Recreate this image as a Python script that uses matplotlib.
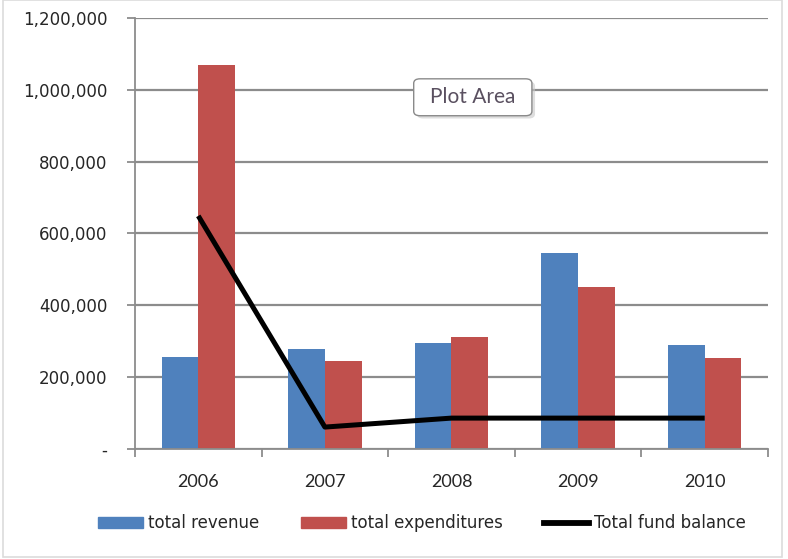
import numpy as np
import matplotlib.pyplot as plt
from matplotlib.patches import FancyBboxPatch, Rectangle
from matplotlib.lines import Line2D
from matplotlib.ticker import FuncFormatter

years = ['2006', '2007', '2008', '2009', '2010']
total_revenue = [256000, 278000, 295000, 546000, 290000]
total_expenditures = [1069000, 245000, 312000, 451000, 253000]
total_fund_balance = [649000, 61000, 86000, 86000, 86000]

blue = '#4f81bd'
red = '#c0504d'
grid_grey = '#8c8c8c'
text_grey = '#262626'

plt.rcParams['font.family'] = ['Lato', 'DejaVu Sans']

fig = plt.figure(figsize=(7.88, 5.59), dpi=100)
ax = fig.add_axes([0.1713, 0.1968, 0.8033, 0.771])

x = np.arange(len(years))
bar_w = 0.29
ax.bar(x - bar_w / 2, total_revenue, width=bar_w, color=blue, zorder=2)
ax.bar(x + bar_w / 2, total_expenditures, width=bar_w, color=red, zorder=2)
ax.plot(x, total_fund_balance, color='black', linewidth=3.6, zorder=3,
        solid_capstyle='butt')

ax.set_xlim(-0.5, len(years) - 0.5)
ax.set_ylim(0, 1200000)
ax.set_yticks(np.arange(0, 1200001, 200000))
ax.yaxis.set_major_formatter(FuncFormatter(lambda v, p: '-' if v == 0 else f'{int(v):,}'))
ax.set_xticks(x)
ax.set_xticklabels(years)
ax.set_xticks(np.arange(-0.5, len(years)), minor=True)
ax.tick_params(axis='x', which='major', length=0, pad=18, labelsize=13, colors=text_grey)
ax.tick_params(axis='x', which='minor', length=6, width=1.3, color=grid_grey)
ax.tick_params(axis='y', length=6, width=1.3, color=grid_grey, pad=14,
               labelsize=12, labelcolor=text_grey)
for lbl in ax.get_yticklabels():
    lbl.set_family('DejaVu Sans')

ax.grid(axis='y', color=grid_grey, linewidth=1.6, zorder=0)
for side in ['top', 'right']:
    ax.spines[side].set_visible(False)
ax.spines['left'].set_color(grid_grey)
ax.spines['bottom'].set_color(grid_grey)
ax.spines['left'].set_linewidth(1.3)
ax.spines['bottom'].set_linewidth(1.3)

# "Plot Area" hover tag with a soft shadow
shadow = FancyBboxPatch((0.533, 0.792), 0.142, 0.058, boxstyle='round,pad=0.004,rounding_size=0.008',
                        transform=fig.transFigure, facecolor='#c8c8c8', edgecolor='none',
                        alpha=0.6, zorder=4)
fig.patches.append(shadow)
tag = FancyBboxPatch((0.529, 0.797), 0.142, 0.058, boxstyle='round,pad=0.004,rounding_size=0.008',
                     transform=fig.transFigure, facecolor='white', edgecolor='#8a8a8a',
                     linewidth=1.0, zorder=5)
fig.patches.append(tag)
fig.text(0.600, 0.826, 'Plot Area', ha='center', va='center', fontsize=15,
         color='#5a5060', zorder=6)

handles = [
    Rectangle((0, 0), 1, 1, color=blue),
    Rectangle((0, 0), 1, 1, color=red),
    Line2D([0], [0], color='black', linewidth=4.2),
]
labels = ['total revenue', 'total expenditures', 'Total fund balance']
leg = fig.legend(handles, labels, loc='center', bbox_to_anchor=(0.5355, 0.064), ncol=3,
                 frameon=False, handlelength=2.7, handleheight=0.6,
                 handletextpad=0.3, columnspacing=2.5, labelcolor=text_grey,
                 prop={'family': 'DejaVu Sans', 'size': 12})

# faint outer chart frame
fig.patches.append(Rectangle((0.004, 0.004), 0.988, 0.996, transform=fig.transFigure,
                             facecolor='none', edgecolor='#dcdcdc', linewidth=1.2))

fig.savefig('out.png', dpi=100)
